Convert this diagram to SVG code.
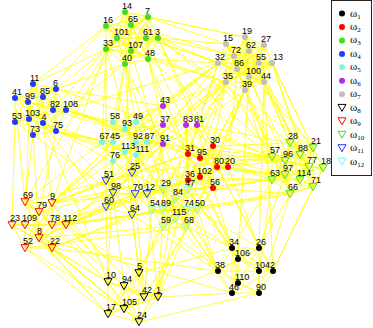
<svg xmlns="http://www.w3.org/2000/svg" xmlns:xlink="http://www.w3.org/1999/xlink" width="373" height="328" viewBox="0 0 373 328">
<style>
.e{fill:none;stroke:#ffff00;stroke-width:.75;stroke-linejoin:round}
text{font-family:"Liberation Sans",Arial,Helvetica,sans-serif;font-size:9px;fill:#000;stroke:none}
.c1{fill:#000}.c2{fill:#f00}.c3{fill:#3fe01e}.c4{fill:#1f3cff}.c5{fill:#7ff7df}.c6{fill:#b02cf0}.c7{fill:#bfbfbf}
.t8,.t9,.t10,.t11,.t12{fill:none;stroke-width:1}
.t8{stroke:#000}.t9{stroke:#f00}.t10{stroke:#3fe01e}.t11{stroke:#1f3cff}.t12{stroke:#7ff7df}
.lg{font-family:"Liberation Serif","DejaVu Serif",serif;font-size:11px}
.sb{font-size:7px}
</style>
<defs>
<polygon id="tv" points="-4,-3.3 4,-3.3 0,3.7"/>
</defs>
<rect width="373" height="328" fill="#fff"/>
<g id="edges" class="e">
<path d="M125 12L148 17 158 38 148 59 125 64 106 49 106 26 131 25 146 38 131 51 117 38 125 12 158 38 125 64 106 26 146 38 117 38 148 17 148 59 106 49 131 25 131 51 125 12 148 59 106 26 131 51 148 17 125 64 131 25 117 38 158 38 106 49 146 38 125 12 125 64 146 38 148 17 106 49 131 51 158 38 106 26 117 38 148 59 131 25 125 12 106 49 117 38 125 64 131 51 148 59 146 38 158 38 131 25 148 17 106 26 125 12"/>
<path d="M33 84L56 89 66 110 56 131 33 135 15 122 15 98 43 97 53 110 43 123 29 119 28 102 33 84 15 122 29 119 56 131 53 110 56 89 15 98 28 102 33 135 43 123 66 110 43 97 33 84 66 110 33 135 15 98 53 110 29 119 33 84 56 131 15 98 43 123 33 84M56 89L56 131 15 122 43 97 43 123 28 102 56 89 33 135 43 97 29 119 56 89M66 110L15 122 53 110 28 102 66 110"/>
<path d="M245 37L264 45 272 63 264 82 245 90 226 82 218 63 226 44 234 56 249 51 259 63 249 77 237 69 245 37 272 63 245 90 218 63 234 56 259 63 237 69 264 45 264 82 226 82 226 44 249 51 249 77 245 37 264 82 218 63 249 51 237 69 272 63 226 82 234 56 249 77 264 45 245 90 226 44 259 63 245 37 245 90 234 56 237 69 264 82 226 44 249 77 272 63 218 63 259 63 264 45 226 82 249 51 245 37 226 82 259 63 272 63 226 44 237 69 245 90 249 51 264 45 218 63 249 77 264 82 234 56 245 37"/>
<path d="M136 122L136 142 147 142 136 155 113 161 125 152 102 142 113 142 113 122 125 129 136 122 136 155 102 142 125 129 147 142 125 152 113 122 136 142 113 161 113 142 136 122 147 142 113 161 102 142 113 122 136 122M136 142L136 155 125 152 113 142 125 129 136 142"/>
<path d="M213 146L228 167 213 188 188 180 188 154 200 158 217 167 200 177 213 146 188 180 217 167 228 167 188 154 200 177 213 188 200 158 213 146 213 188 188 154 217 167 213 146M228 167L188 180 200 158 200 177 228 167"/>
<path d="M232 248L259 248 273 271 259 293 232 293 218 271 238 259 259 271 238 283 232 248 273 271 232 293 238 259 238 283 259 248 259 293 218 271 259 271 232 248 232 293 238 283 259 293 259 271 273 271 238 259 259 248 218 271 232 248"/>
<path d="M139 273L158 297 139 322 108 314 108 282 124 286 144 297 124 309 139 273 108 314 144 297 158 297 108 282 124 309 139 322 124 286 139 273 139 322 108 282 144 297 139 273M158 297L108 314 124 286 124 309 158 297"/>
<path d="M25 202L52 203 66 225 52 248 25 248 12 225 25 225 39 212 52 225 39 238 25 202 52 248 25 225 39 238 66 225 12 225 52 225 52 203 25 248 39 212 25 202 66 225 25 248 25 225 52 225 25 202M52 203L52 248 12 225 39 212 39 238 52 203"/>
<path d="M290 143L313 148 323 168 313 187 290 194 272 180 272 157 285 161 300 155 309 167 300 180 285 175 290 143 272 180 300 180 313 187 300 155 313 148 272 157 285 175 290 194 309 167 323 168 285 161 290 143 323 168 290 194 272 157 300 155 300 180 290 143 313 187 272 157 309 167 290 143M313 148L313 187 272 180 285 161 309 167 285 175 313 148 290 194 285 161 300 180 313 148M323 168L272 180 300 155 285 175 323 168"/>
<path d="M132 173L147 194 132 215 106 207 113 193 106 181 135 194 132 173 132 215 113 193 135 194 147 194 106 207 106 181 132 173 106 207 135 194 132 215 106 181 147 194 113 193 132 173"/>
<path d="M163 190L188 190 197 210 186 227 163 227 152 210 175 199 187 210 175 219 163 210 163 190 186 227 175 199 163 210 197 210 152 210 175 219 188 190 163 227 187 210 163 190 197 210 163 227 175 199 175 219 163 190M188 190L186 227 152 210 187 210 163 210 188 190"/>
<path d="M56 89 106 49M56 89 125 64M33 84 106 26M33 84 106 49M66 110 125 64M66 110 117 38M43 97 106 26M53 110 106 49
M66 110 113 122M56 131 102 142M56 131 113 142M43 123 102 142M66 110 125 129M53 110 113 122M56 131 125 152
M33 135 25 202M15 122 12 225M43 123 52 203M56 131 39 212M29 119 25 225M15 98 25 202M33 135 39 238
M56 131 106 181M43 123 106 207M33 135 113 193
M66 110 188 154M56 89 163 125M56 131 188 180M53 110 163 144M66 110 218 63M56 89 163 106M43 97 147 142M43 123 163 190M43 123 108 282
M158 38 218 63M158 38 226 44M146 38 218 63M148 59 226 82M148 17 226 44M148 17 245 37M131 25 234 56M146 38 237 69M148 59 218 63M158 38 234 56M125 12 245 37M131 51 226 82
M125 64 113 122M125 64 136 122M106 49 102 142M131 51 125 129M125 64 113 142
M148 59 163 106M148 59 163 125M158 38 197 125M125 64 163 144
M148 59 188 154M158 38 213 146M146 38 200 158
M158 38 290 143M148 59 272 157M146 38 285 161
M106 49 106 181M125 64 132 173
M125 64 163 190M131 51 175 199M106 49 152 210
M106 49 52 203M117 38 25 202
M245 90 272 157M245 90 272 180M264 82 290 143M264 82 313 148M272 63 323 168M272 63 313 187M264 82 309 167M249 77 285 161M226 82 272 157M237 69 285 175M259 63 300 155M264 45 313 148M249 51 290 143M272 63 309 167M249 77 300 180M245 90 290 194
M226 82 213 146M245 90 213 146M218 63 188 154M237 69 228 167M249 77 217 167M226 82 200 158
M218 63 163 106M226 82 186 125M245 90 197 125
M218 63 113 142M226 82 113 161M218 63 136 122M237 69 136 155
M218 63 132 173M226 82 106 181M237 69 147 194
M245 90 188 190M226 82 163 190M249 77 197 210M218 63 175 199
M264 82 259 248M264 82 273 271M249 77 238 259
M218 63 52 203M226 82 66 225
M226 82 139 273M245 90 158 297
M163 106 113 122M163 106 136 122M163 106 272 63M163 106 52 203M163 106 132 173M163 106 232 248
M163 125 102 142M163 125 125 129M163 125 228 167M163 125 106 207M163 125 163 210M163 125 249 51
M186 125 213 146M186 125 188 180M186 125 188 190M186 125 272 157M186 125 158 297M186 125 66 225
M197 125 290 143M197 125 272 157M197 125 213 188M197 125 259 248M197 125 106 181
M163 144 147 194M163 144 152 210M163 144 113 193M163 144 132 215M163 144 285 175M163 144 218 271
M147 142 188 154M136 142 188 180M136 122 200 158M136 155 163 190M125 152 152 210M113 161 163 210M113 161 106 181M125 152 132 173M113 142 113 193M136 155 135 194M102 142 25 202M113 161 39 212M113 142 52 203M113 161 108 282M125 152 139 273M147 142 272 157M136 122 272 180M136 155 218 271
M213 146 272 157M228 167 272 180M217 167 285 161M213 188 290 194M213 146 290 143M228 167 285 175M200 158 300 155M217 167 300 180M213 188 232 248M188 180 218 271M200 177 238 259M228 167 259 248M217 167 273 271M188 180 188 190M200 177 187 210M188 154 163 190M213 188 197 210M200 158 175 199M188 154 132 173M188 180 135 194M200 177 147 194M188 180 158 297M213 188 144 297M188 154 52 203M200 177 66 225M188 180 52 225
M186 227 232 248M197 210 259 248M187 210 218 271M175 219 232 293M188 190 238 259M163 227 238 283M163 227 139 273M152 210 144 297M163 210 158 297M186 227 139 322M175 219 124 286M163 190 132 173M163 210 132 215M152 210 135 194M152 210 52 248M163 210 66 225M163 190 52 203M197 210 290 194M188 190 272 180M187 210 313 187M175 199 285 175
M106 181 52 203M106 207 66 225M113 193 52 225M132 215 52 248M106 181 25 202M106 207 39 238M113 193 39 212M135 194 52 225M132 215 139 273M106 207 108 282M113 193 124 286M147 194 158 297M135 194 144 297M132 173 272 157M147 194 272 180M132 215 218 271M147 194 232 248
M52 248 108 282M39 238 108 314M66 225 124 286M25 248 108 314M52 248 124 309M52 225 108 282M25 225 108 314M39 238 139 322M66 225 139 273M52 203 144 297M39 212 124 286M12 225 108 282M52 248 139 322M25 248 124 309
M52 203 132 173M66 225 135 194M66 225 147 194M52 225 132 215M39 238 163 227M25 248 186 227M52 203 272 157M66 225 290 194M52 248 218 271M39 238 232 293
M259 248 290 194M273 271 313 187M259 271 272 180M259 248 285 175M273 271 323 168M259 293 290 194M232 248 272 180
M158 297 232 293M144 297 218 271M139 273 232 248M139 322 259 293
M238 259 188 180M218 271 163 190M232 248 188 190
M272 157 188 154M272 180 188 180M285 161 200 158M313 148 226 44M300 155 249 51M272 180 200 177M285 175 217 167M313 148 158 38"/>
</g>
<g id="nodes">
<g id="n34" class="c1"><circle cx="232" cy="248" r="3"/><text x="229" y="244.5">34</text></g>
<g id="n26" class="c1"><circle cx="259" cy="248" r="3"/><text x="256" y="244.5">26</text></g>
<g id="n2" class="c1"><circle cx="273" cy="271" r="3"/><text x="270" y="267.5">2</text></g>
<g id="n90" class="c1"><circle cx="259" cy="293" r="3"/><text x="256" y="289.5">90</text></g>
<g id="n46" class="c1"><circle cx="232" cy="293" r="3"/><text x="229" y="289.5">46</text></g>
<g id="n38" class="c1"><circle cx="218" cy="271" r="3"/><text x="215" y="267.5">38</text></g>
<g id="n106" class="c1"><circle cx="238" cy="259" r="3"/><text x="235" y="255.5">106</text></g>
<g id="n104" class="c1"><circle cx="259" cy="271" r="3"/><text x="255" y="267.5">104</text></g>
<g id="n110" class="c1"><circle cx="238" cy="283" r="3"/><text x="235" y="279.5">110</text></g>
<g id="n30" class="c2"><circle cx="213" cy="146" r="3"/><text x="210" y="142.5">30</text></g>
<g id="n20" class="c2"><circle cx="228" cy="167" r="3"/><text x="225" y="163.5">20</text></g>
<g id="n56" class="c2"><circle cx="213" cy="188" r="3"/><text x="210" y="184.5">56</text></g>
<g id="n36" class="c2"><circle cx="188" cy="180" r="3"/><text x="185" y="176.5">36</text></g>
<g id="n31" class="c2"><circle cx="188" cy="154" r="3"/><text x="185" y="150.5">31</text></g>
<g id="n95" class="c2"><circle cx="200" cy="158" r="3"/><text x="197" y="154.5">95</text></g>
<g id="n80" class="c2"><circle cx="217" cy="167" r="3"/><text x="214" y="163.5">80</text></g>
<g id="n102" class="c2"><circle cx="200" cy="177" r="3"/><text x="197" y="173.5">102</text></g>
<g id="n14" class="c3"><circle cx="125" cy="12" r="3"/><text x="122" y="8.5">14</text></g>
<g id="n7" class="c3"><circle cx="148" cy="17" r="3"/><text x="145" y="13.5">7</text></g>
<g id="n3" class="c3"><circle cx="158" cy="38" r="3"/><text x="155" y="34.5">3</text></g>
<g id="n48" class="c3"><circle cx="148" cy="59" r="3"/><text x="145" y="55.5">48</text></g>
<g id="n40" class="c3"><circle cx="125" cy="64" r="3"/><text x="122" y="60.5">40</text></g>
<g id="n33" class="c3"><circle cx="106" cy="49" r="3"/><text x="103" y="45.5">33</text></g>
<g id="n16" class="c3"><circle cx="106" cy="26" r="3"/><text x="103" y="22.5">16</text></g>
<g id="n65" class="c3"><circle cx="131" cy="25" r="3"/><text x="128" y="21.5">65</text></g>
<g id="n61" class="c3"><circle cx="146" cy="38" r="3"/><text x="143" y="34.5">61</text></g>
<g id="n107" class="c3"><circle cx="131" cy="51" r="3"/><text x="128" y="47.5">107</text></g>
<g id="n101" class="c3"><circle cx="117" cy="38" r="3"/><text x="114" y="34.5">101</text></g>
<g id="n11" class="c4"><circle cx="33" cy="84" r="3"/><text x="30" y="80.5">11</text></g>
<g id="n6" class="c4"><circle cx="56" cy="89" r="3"/><text x="53" y="85.5">6</text></g>
<g id="n108" class="c4"><circle cx="66" cy="110" r="3"/><text x="63" y="106.5">108</text></g>
<g id="n75" class="c4"><circle cx="56" cy="131" r="3"/><text x="53" y="127.5">75</text></g>
<g id="n73" class="c4"><circle cx="33" cy="135" r="3"/><text x="30" y="131.5">73</text></g>
<g id="n53" class="c4"><circle cx="15" cy="122" r="3"/><text x="12" y="118.5">53</text></g>
<g id="n41" class="c4"><circle cx="15" cy="98" r="3"/><text x="12" y="94.5">41</text></g>
<g id="n85" class="c4"><circle cx="43" cy="97" r="3"/><text x="40" y="93.5">85</text></g>
<g id="n82" class="c4"><circle cx="53" cy="110" r="3"/><text x="50" y="106.5">82</text></g>
<g id="n4" class="c4"><circle cx="43" cy="123" r="3"/><text x="41.5" y="119.5">4</text></g>
<g id="n103" class="c4"><circle cx="29" cy="119" r="3"/><text x="25" y="115.5">103</text></g>
<g id="n99" class="c4"><circle cx="28" cy="102" r="3"/><text x="25" y="98.5">99</text></g>
<g id="n49" class="c5"><circle cx="136" cy="122" r="3"/><text x="133" y="118.5">49</text></g>
<g id="n92" class="c5"><circle cx="136" cy="142" r="3"/><text x="133" y="138.5">92</text></g>
<g id="n87" class="c5"><circle cx="147" cy="142" r="3"/><text x="144.5" y="138.5">87</text></g>
<g id="n111" class="c5"><circle cx="136" cy="155" r="3"/><text x="135.5" y="151.5">111</text></g>
<g id="n76" class="c5"><circle cx="113" cy="161" r="3"/><text x="110" y="157.5">76</text></g>
<g id="n113" class="c5"><circle cx="125" cy="152" r="3"/><text x="121" y="148.5">113</text></g>
<g id="n67" class="c5"><circle cx="102" cy="142" r="3"/><text x="99.5" y="138.5">67</text></g>
<g id="n45" class="c5"><circle cx="113" cy="142" r="3"/><text x="110" y="138.5">45</text></g>
<g id="n58" class="c5"><circle cx="113" cy="122" r="3"/><text x="110" y="118.5">58</text></g>
<g id="n93" class="c5"><circle cx="125" cy="129" r="3"/><text x="122" y="125.5">93</text></g>
<g id="n43" class="c6"><circle cx="163" cy="106" r="3"/><text x="160" y="102.5">43</text></g>
<g id="n37" class="c6"><circle cx="163" cy="125" r="3"/><text x="160" y="121.5">37</text></g>
<g id="n83" class="c6"><circle cx="186" cy="125" r="3"/><text x="183" y="121.5">83</text></g>
<g id="n81" class="c6"><circle cx="197" cy="125" r="3"/><text x="194" y="121.5">81</text></g>
<g id="n91" class="c6"><circle cx="163" cy="144" r="3"/><text x="160" y="140.5">91</text></g>
<g id="n19" class="c7"><circle cx="245" cy="37" r="3"/><text x="242" y="33.5">19</text></g>
<g id="n27" class="c7"><circle cx="264" cy="45" r="3"/><text x="261" y="41.5">27</text></g>
<g id="n13" class="c7"><circle cx="272" cy="63" r="3"/><text x="273" y="59.5">13</text></g>
<g id="n44" class="c7"><circle cx="264" cy="82" r="3"/><text x="261" y="78.5">44</text></g>
<g id="n39" class="c7"><circle cx="245" cy="90" r="3"/><text x="242" y="86.5">39</text></g>
<g id="n35" class="c7"><circle cx="226" cy="82" r="3"/><text x="223" y="78.5">35</text></g>
<g id="n32" class="c7"><circle cx="218" cy="63" r="3"/><text x="215" y="59.5">32</text></g>
<g id="n15" class="c7"><circle cx="226" cy="44" r="3"/><text x="223" y="40.5">15</text></g>
<g id="n72" class="c7"><circle cx="234" cy="56" r="3"/><text x="231" y="52.5">72</text></g>
<g id="n62" class="c7"><circle cx="249" cy="51" r="3"/><text x="246" y="47.5">62</text></g>
<g id="n55" class="c7"><circle cx="259" cy="63" r="3"/><text x="256" y="59.5">55</text></g>
<g id="n100" class="c7"><circle cx="249" cy="77" r="3"/><text x="246" y="73.5">100</text></g>
<g id="n86" class="c7"><circle cx="237" cy="69" r="3"/><text x="234" y="65.5">86</text></g>
<g id="n5" class="t8"><use href="#tv" x="139" y="273"/><text x="137" y="268.5">5</text></g>
<g id="n1" class="t8"><use href="#tv" x="158" y="297"/><text x="156" y="292.5">1</text></g>
<g id="n24" class="t8"><use href="#tv" x="139" y="322"/><text x="137" y="317.5">24</text></g>
<g id="n17" class="t8"><use href="#tv" x="108" y="314"/><text x="106" y="309.5">17</text></g>
<g id="n10" class="t8"><use href="#tv" x="108" y="282"/><text x="106" y="277.5">10</text></g>
<g id="n94" class="t8"><use href="#tv" x="124" y="286"/><text x="122" y="281.5">94</text></g>
<g id="n42" class="t8"><use href="#tv" x="144" y="297"/><text x="142" y="292.5">42</text></g>
<g id="n105" class="t8"><use href="#tv" x="124" y="309"/><text x="122" y="304.5">105</text></g>
<g id="n69" class="t9"><use href="#tv" x="25" y="202"/><text x="23" y="197.5">69</text></g>
<g id="n9" class="t9"><use href="#tv" x="52" y="203"/><text x="50" y="198.5">9</text></g>
<g id="n112" class="t9"><use href="#tv" x="66" y="225"/><text x="63" y="220.5">112</text></g>
<g id="n22" class="t9"><use href="#tv" x="52" y="248"/><text x="50" y="243.5">22</text></g>
<g id="n52" class="t9"><use href="#tv" x="25" y="248"/><text x="23" y="243.5">52</text></g>
<g id="n23" class="t9"><use href="#tv" x="12" y="225"/><text x="10" y="220.5">23</text></g>
<g id="n109" class="t9"><use href="#tv" x="25" y="225"/><text x="22" y="220.5">109</text></g>
<g id="n79" class="t9"><use href="#tv" x="39" y="212"/><text x="37" y="207.5">79</text></g>
<g id="n78" class="t9"><use href="#tv" x="52" y="225"/><text x="50" y="220.5">78</text></g>
<g id="n8" class="t9"><use href="#tv" x="39" y="238"/><text x="37" y="233.5">8</text></g>
<g id="n28" class="t10"><use href="#tv" x="290" y="143"/><text x="288" y="138.5">28</text></g>
<g id="n21" class="t10"><use href="#tv" x="313" y="148"/><text x="311" y="143.5">21</text></g>
<g id="n18" class="t10"><use href="#tv" x="323" y="168"/><text x="321" y="163.5">18</text></g>
<g id="n71" class="t10"><use href="#tv" x="313" y="187"/><text x="311" y="182.5">71</text></g>
<g id="n66" class="t10"><use href="#tv" x="290" y="194"/><text x="288" y="189.5">66</text></g>
<g id="n63" class="t10"><use href="#tv" x="272" y="180"/><text x="270" y="175.5">63</text></g>
<g id="n57" class="t10"><use href="#tv" x="272" y="157"/><text x="270" y="152.5">57</text></g>
<g id="n96" class="t10"><use href="#tv" x="285" y="161"/><text x="283" y="156.5">96</text></g>
<g id="n88" class="t10"><use href="#tv" x="300" y="155"/><text x="298" y="150.5">88</text></g>
<g id="n77" class="t10"><use href="#tv" x="309" y="167"/><text x="307" y="162.5">77</text></g>
<g id="n114" class="t10"><use href="#tv" x="300" y="180"/><text x="297" y="175.5">114</text></g>
<g id="n97" class="t10"><use href="#tv" x="285" y="175"/><text x="283" y="170.5">97</text></g>
<g id="n25" class="t11"><use href="#tv" x="132" y="173"/><text x="130" y="168.5">25</text></g>
<g id="n12" class="t11"><use href="#tv" x="147" y="194"/><text x="145" y="189.5">12</text></g>
<g id="n64" class="t11"><use href="#tv" x="132" y="215"/><text x="130" y="210.5">64</text></g>
<g id="n60" class="t11"><use href="#tv" x="106" y="207"/><text x="104" y="202.5">60</text></g>
<g id="n98" class="t11"><use href="#tv" x="113" y="193"/><text x="111" y="188.5">98</text></g>
<g id="n51" class="t11"><use href="#tv" x="106" y="181"/><text x="104" y="176.5">51</text></g>
<g id="n70" class="t11"><use href="#tv" x="135" y="194"/><text x="133" y="189.5">70</text></g>
<g id="n29" class="t12"><use href="#tv" x="163" y="190"/><text x="161" y="185.5">29</text></g>
<g id="n47" class="t12"><use href="#tv" x="188" y="190"/><text x="185" y="186">47</text></g>
<g id="n50" class="t12"><use href="#tv" x="197" y="210"/><text x="195" y="205.5">50</text></g>
<g id="n68" class="t12"><use href="#tv" x="186" y="227"/><text x="184" y="222.5">68</text></g>
<g id="n59" class="t12"><use href="#tv" x="163" y="227"/><text x="161" y="222.5">59</text></g>
<g id="n54" class="t12"><use href="#tv" x="152" y="210"/><text x="150" y="205.5">54</text></g>
<g id="n84" class="t12"><use href="#tv" x="175" y="199"/><text x="173" y="194.5">84</text></g>
<g id="n74" class="t12"><use href="#tv" x="187" y="210"/><text x="184" y="205.5">74</text></g>
<g id="n115" class="t12"><use href="#tv" x="175" y="219"/><text x="172" y="214.5">115</text></g>
<g id="n89" class="t12"><use href="#tv" x="163" y="210"/><text x="161" y="205.5">89</text></g>
</g>
<g id="legend">
<rect x="331.5" y="0.5" width="40" height="175" fill="#fff" stroke="#262626" stroke-width="1"/>
<circle class="c1" cx="342" cy="13.5" r="3"/><text class="lg" x="350" y="16.5">ω<tspan class="sb" dy="2">1</tspan></text>
<circle class="c2" cx="342" cy="27" r="3"/><text class="lg" x="350" y="30">ω<tspan class="sb" dy="2">2</tspan></text>
<circle class="c3" cx="342" cy="40.4" r="3"/><text class="lg" x="350" y="43.4">ω<tspan class="sb" dy="2">3</tspan></text>
<circle class="c4" cx="342" cy="53.9" r="3"/><text class="lg" x="350" y="56.9">ω<tspan class="sb" dy="2">4</tspan></text>
<circle class="c5" cx="342" cy="67.3" r="3"/><text class="lg" x="350" y="70.3">ω<tspan class="sb" dy="2">5</tspan></text>
<circle class="c6" cx="342" cy="80.8" r="3"/><text class="lg" x="350" y="83.8">ω<tspan class="sb" dy="2">6</tspan></text>
<circle class="c7" cx="342" cy="94.2" r="3"/><text class="lg" x="350" y="97.2">ω<tspan class="sb" dy="2">7</tspan></text>
<use class="t8" href="#tv" x="342" y="107.7"/><text class="lg" x="350" y="110.7">ω<tspan class="sb" dy="2">8</tspan></text>
<use class="t9" href="#tv" x="342" y="121.1"/><text class="lg" x="350" y="124.1">ω<tspan class="sb" dy="2">9</tspan></text>
<use class="t10" href="#tv" x="342" y="134.6"/><text class="lg" x="350" y="137.6">ω<tspan class="sb" dy="2">10</tspan></text>
<use class="t11" href="#tv" x="342" y="148"/><text class="lg" x="350" y="151">ω<tspan class="sb" dy="2">11</tspan></text>
<use class="t12" href="#tv" x="342" y="161.5"/><text class="lg" x="350" y="164.5">ω<tspan class="sb" dy="2">12</tspan></text>
</g>
</svg>
